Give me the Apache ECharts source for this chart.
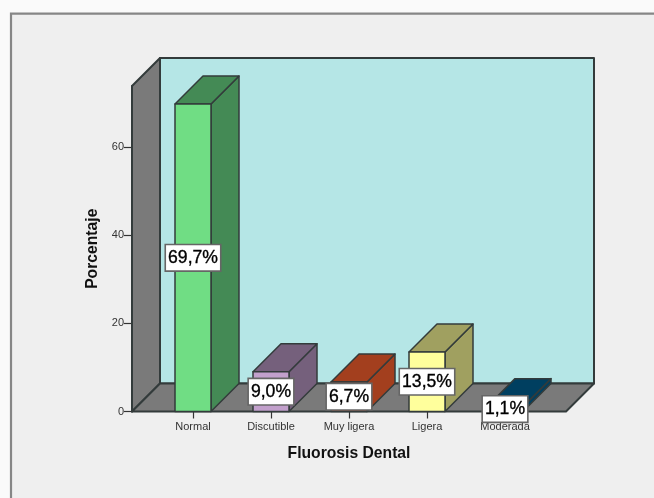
<!DOCTYPE html>
<html><head><meta charset="utf-8">
<style>html,body{margin:0;padding:0;background:#fafafa}#c{width:654px;height:498px}</style>
<script src="https://cdn.jsdelivr.net/npm/echarts@6/dist/echarts.min.js"></script>
</head><body><div id="c"></div>
<script>
const categories = ['Normal','Discutible','Muy ligera','Ligera','Moderada'];
const values = [69.7, 9.0, 6.7, 13.5, 1.1];
const valueLabels = ['69,7%','9,0%','6,7%','13,5%','1,1%'];
const frontColors = ['#70dd84','#c2a0cc','#a33f1e','#ffff9c','#003f60'];
const sideColors = ['#448a55','#75607c','#a33f1e','#a0a060','#003f60'];
const yTicks = [0,20,40,60];
const yMax = 73.8;
const depth = 28, pad = 22, barW = 36;
const edge = '#333b3b';
const poly = (pts, fill, lw) => ({type:'polygon', shape:{points:pts}, style:{fill, stroke:edge, lineWidth:lw||1.5, lineJoin:'round'}});
const titleStyle = {fontSize:15.7, fontWeight:'bold', color:'#111', fontFamily:'"Liberation Sans"'};

const chart = echarts.init(document.getElementById('c'), null, {renderer:'canvas'});
chart.setOption({
  animation:false,
  backgroundColor:'#fafafa',
  textStyle:{fontFamily:'"Liberation Sans", Arial, sans-serif'},
  graphic:[{type:'polygon', silent:true, z:-1,
    shape:{points:[[11,498],[11,13.7],[654,13.7],[654,498]]},
    style:{fill:'#efefef', stroke:null}},
    {type:'polyline', silent:true, z:-1,
    shape:{points:[[11,498],[11,13.7],[654,13.7]]},
    style:{fill:null, stroke:'#868686', lineWidth:2.2}}],
  grid:{left:154, width:390, top:86, height:325.5},
  xAxis:{type:'category', data:categories, position:'bottom',
    axisLine:{show:false},
    axisTick:{show:true, alignWithLabel:true, length:7, lineStyle:{color:'#333', width:1.2}},
    axisLabel:{interval:0, fontSize:11, color:'#333', margin:10},
    name:'Fluorosis Dental', nameLocation:'middle', nameGap:34,
    nameTextStyle:titleStyle},
  yAxis:{type:'value', min:0, max:yMax, offset:pad, position:'left',
    splitLine:{show:false},
    axisLine:{show:true, lineStyle:{color:edge, width:1.8}},
    axisTick:{show:true, length:8, customValues:yTicks, lineStyle:{color:'#333', width:1.2}},
    axisLabel:{fontSize:11, color:'#333', margin:8, customValues:yTicks},
    name:'Porcentaje', nameLocation:'middle', nameGap:29,
    nameTextStyle:titleStyle},
  series:[
    {type:'custom', z:2, silent:true, data:[[0]], coordinateSystem:'cartesian2d',
     encode:{x:-1,y:-1},
     renderItem(params, api){
       const c = params.coordSys, x0=c.x-pad, x1=c.x+c.width+pad, yT=c.y, yB=c.y+c.height;
       return {type:'group', children:[
         poly([[x0+depth,yT-depth],[x1+depth,yT-depth],[x1+depth,yB-depth],[x0+depth,yB-depth]],'#b5e6e6',2),
         poly([[x0,yT],[x0+depth,yT-depth],[x0+depth,yB-depth],[x0,yB]],'#7a7a7a',2),
         poly([[x0,yB],[x0+depth,yB-depth],[x1+depth,yB-depth],[x1,yB]],'#7a7a7a',2)
       ]};
     }},
    {type:'custom', z:3, silent:true, coordinateSystem:'cartesian2d',
     data:values.map((v,i)=>[i,v]), encode:{x:0,y:1},
     renderItem(params, api){
       const i=params.dataIndex, top=api.coord([api.value(0),api.value(1)]), base=api.coord([api.value(0),0]);
       const l=top[0]-barW/2, r=top[0]+barW/2, t=top[1], b=base[1];
       return {type:'group', children:[
         poly([[r,t],[r+depth,t-depth],[r+depth,b-depth],[r,b]],sideColors[i]),
         poly([[l,t],[l+depth,t-depth],[r+depth,t-depth],[r,t]],sideColors[i]),
         poly([[l,t],[r,t],[r,b],[l,b]],frontColors[i])
       ]};
     }},
    {type:'custom', z:5, silent:true, coordinateSystem:'cartesian2d',
     data:values.map((v,i)=>[i,v/2]), encode:{x:0,y:1},
     renderItem(params, api){
       const i=params.dataIndex, p=api.coord([api.value(0),api.value(1)]);
       return {type:'text', x:p[0], y:p[1], style:{
         text:valueLabels[i], x:0, y:0, align:'center', verticalAlign:'middle',
         fontSize:17.6, fontFamily:'"Liberation Sans"', fill:'#000',
         stroke:'#000', lineWidth:0.35,
         backgroundColor:'#fff', borderColor:'#666', borderWidth:1.6,
         padding:[4,2,3,2]
       }};
     }}
  ]
});
</script></body></html>
